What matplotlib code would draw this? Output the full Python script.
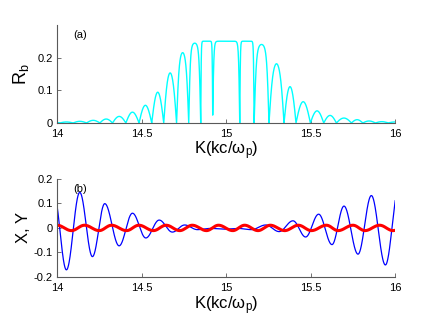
import numpy as np
import matplotlib
matplotlib.use("Agg")
import matplotlib.pyplot as plt

plt.rcParams["font.family"] = ["Liberation Sans", "DejaVu Sans"]
plt.rcParams["mathtext.default"] = "regular"

# ─── Data ───────────────────────────────────────────────────────────────────

# (a) R_b : null positions of the reflectivity lobes and the lobe heights
rb_nulls = [13.937, 14.016, 14.095, 14.174, 14.253, 14.328, 14.407, 14.485,
            14.560, 14.631, 14.707, 14.779, 14.850, 14.921, 15.081, 15.166,
            15.254, 15.343, 15.414, 15.499, 15.578, 15.653, 15.742, 15.809,
            15.884, 15.959, 16.038]
rb_null_depth = [0, 0, 0, 0, 0, 0, 0, 0, 0, 0, 0, 0, 0, 0.024, 0, 0,
                 0, 0, 0, 0, 0, 0, 0, 0, 0, 0, 0]
rb_peaks = [0.002, 0.003, 0.005, 0.008, 0.012, 0.020, 0.033, 0.054, 0.094,
            0.153, 0.215, 0.244, 0.25, 0.25, 0.25, 0.240, 0.181, 0.111,
            0.065, 0.037, 0.023, 0.015, 0.010, 0.006, 0.004, 0.003]
RB_SAT = 0.25

# (b) X (blue) : successive extrema (position, value)
x_ext_k = [13.980, 14.055, 14.134, 14.209, 14.282, 14.367, 14.446, 14.525,
           14.604, 14.682, 14.755, 14.830, 14.910, 14.990, 15.070, 15.150,
           15.235, 15.314, 15.396, 15.471, 15.548, 15.627, 15.698, 15.781,
           15.860, 15.943, 16.023]
x_ext_v = [0.140, -0.171, 0.145, -0.117, 0.099, -0.073, 0.060, -0.041,
           0.032, -0.017, 0.012, -0.007, -0.002, -0.005, -0.002, -0.007,
           0.012, -0.015, 0.029, -0.037, 0.056, -0.068, 0.089, -0.107,
           0.132, -0.151, 0.165]

# (b) Y (red) : successive extrema (position, value)
y_ext_k = [14.000, 14.085, 14.162, 14.249, 14.322, 14.411, 14.484, 14.570,
           14.645, 14.726, 14.800, 14.884, 14.955, 15.040, 15.110, 15.189,
           15.262, 15.347, 15.428, 15.505, 15.594, 15.663, 15.751, 15.822,
           15.909, 15.988, 16.070]
y_ext_v = [0.011, -0.011] * 13 + [0.011]

X_TICKS = [14, 14.5, 15, 15.5, 16]

# ─── Curve builders ─────────────────────────────────────────────────────────

def lobes(nulls, depth, peaks, sat, n=120):
    """Stitch lobes between nulls; heights saturate towards `sat`."""
    ks, vs = [], []
    for i, h in enumerate(peaks):
        k0, k1 = nulls[i], nulls[i + 1]
        d0, d1 = depth[i], depth[i + 1]
        t = np.linspace(0, 1, n)
        a = np.arctanh(min(h / sat, 0.999999))
        shape = np.tanh(a * np.sin(np.pi * t)) / np.tanh(a)
        base = np.where(t < 0.5, d0, d1)
        ks.append(k0 + (k1 - k0) * t)
        vs.append(base + (h - base) * shape)
    return np.concatenate(ks), np.concatenate(vs)


def through_extrema(ks, vs, n=60):
    """Smooth half-cosine passage between successive extrema."""
    out_k, out_v = [], []
    for i in range(len(ks) - 1):
        t = np.linspace(0, 1, n)
        out_k.append(ks[i] + (ks[i + 1] - ks[i]) * t)
        out_v.append(vs[i] + (vs[i + 1] - vs[i]) * (1 - np.cos(np.pi * t)) / 2)
    return np.concatenate(out_k), np.concatenate(out_v)


def style(ax):
    ax.spines[["top", "right"]].set_visible(False)
    for s in ("left", "bottom"):
        ax.spines[s].set_color("0.35")
        ax.spines[s].set_linewidth(0.8)
    ax.tick_params(direction="in", length=3, width=0.6, color="0.35",
                   labelsize=8, pad=3)
    ax.tick_params(axis="x", pad=4)
    ax.set_xlim(14, 16)
    ax.set_xticks(X_TICKS)
    ax.set_xticklabels([f"{v:g}" for v in X_TICKS])
    ax.set_xlabel("K(kc/ω$_p$)", fontsize=12, labelpad=1)


# ─── Figure ─────────────────────────────────────────────────────────────────

fig = plt.figure(figsize=(4.36, 3.27), dpi=100)

ax1 = fig.add_axes([0.131, 0.624, 0.775, 0.300])
k, r = lobes(rb_nulls, rb_null_depth, rb_peaks, RB_SAT)
ax1.plot(k, r, color="#00FFFF", lw=1.0)
ax1.set_ylim(0, 0.3)
ax1.set_yticks([0, 0.1, 0.2])
ax1.set_yticklabels(["0", "0.1", "0.2"])
ax1.set_ylabel("R$_b$", fontsize=13, labelpad=5)
ax1.text(14.093, 0.27, "(a)", fontsize=8, va="center", ha="left")
style(ax1)

ax2 = fig.add_axes([0.131, 0.153, 0.775, 0.300])
kx, xv = through_extrema(x_ext_k, x_ext_v)
ky, yv = through_extrema(y_ext_k, y_ext_v)
ax2.plot(kx, xv, color="#0000FF", lw=0.9)
ax2.plot(ky, yv, color="#FF0000", lw=2.2)
ax2.set_ylim(-0.2, 0.2)
ax2.set_yticks([-0.2, -0.1, 0, 0.1, 0.2])
ax2.set_yticklabels(["-0.2", "-0.1", "0", "0.1", "0.2"])
ax2.set_ylabel("X, Y", fontsize=12, labelpad=2)
ax2.text(14.093, 0.16, "(b)", fontsize=8, va="center", ha="left")
style(ax2)

fig.savefig("out.png", dpi=100)
